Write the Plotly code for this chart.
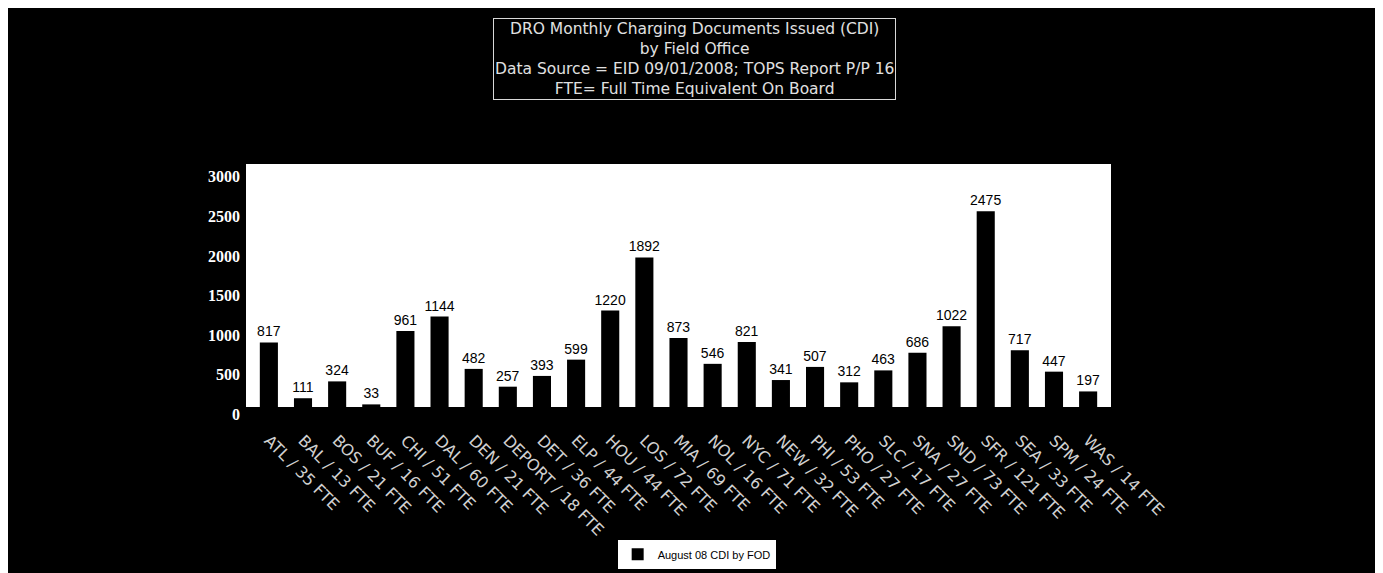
import plotly.graph_objects as go

offices = ["ATL / 35 FTE", "BAL / 13 FTE", "BOS / 21 FTE", "BUF / 16 FTE", "CHI / 51 FTE",
           "DAL / 60 FTE", "DEN / 21 FTE", "DEPORT / 18 FTE", "DET / 36 FTE", "ELP / 44 FTE",
           "HOU / 44 FTE", "LOS / 72 FTE", "MIA / 69 FTE", "NOL / 16 FTE", "NYC / 71 FTE",
           "NEW / 32 FTE", "PHI / 53 FTE", "PHO / 27 FTE", "SLC / 17 FTE", "SNA / 27 FTE",
           "SND / 73 FTE", "SFR / 121 FTE", "SEA / 33 FTE", "SPM / 24 FTE", "WAS / 14 FTE"]
cdi_values = [817, 111, 324, 33, 961, 1144, 482, 257, 393, 599,
              1220, 1892, 873, 546, 821, 341, 507, 312, 463, 686,
              1022, 2475, 717, 447, 197]
y_ticks = [0, 500, 1000, 1500, 2000, 2500, 3000]
series_name = "August 08 CDI by FOD"
title_lines = ["DRO Monthly Charging Documents Issued (CDI)",
               "by Field Office",
               "Data Source = EID 09/01/2008; TOPS Report P/P 16",
               "FTE= Full Time Equivalent On Board"]

fig = go.Figure()
fig.add_trace(go.Bar(
    x=offices, y=cdi_values, name=series_name,
    marker=dict(color="#000000", line=dict(width=0)),
    text=[str(v) for v in cdi_values], textposition="outside",
    constraintext="none", textangle=0,
    textfont=dict(family="Liberation Sans, Arial", size=14, color="#000000"),
    cliponaxis=False, showlegend=True,
))

fig.update_layout(
    width=1383, height=573, autosize=False,
    paper_bgcolor="#000000", plot_bgcolor="#ffffff",
    margin=dict(l=238, r=280, t=156, b=168),
    bargap=0.47,
    showlegend=True,
    legend=dict(orientation="h", x=0.521, y=-0.606, xanchor="center", yanchor="middle",
                bgcolor="#ffffff", font=dict(family="Liberation Sans Narrow, Liberation Sans, Arial", size=11, color="#000000"),
                itemwidth=30, tracegroupgap=0),
    xaxis=dict(range=[-0.67, 24.67], tickangle=45, showgrid=False, showline=False,
               zeroline=False, ticks="", ticklabelstandoff=20,
               tickfont=dict(family="DejaVu Sans", size=16, color="#d0d0d0")),
    yaxis=dict(range=[0, 3074], tickvals=y_ticks, showgrid=False, showline=False,
               zeroline=False, ticks="", ticklabelstandoff=5, ticklabelshift=7,
               tickfont=dict(family="Liberation Serif, Times New Roman", size=16, color="#ffffff",
                             weight="bold"),
               tickformat="d"),
    annotations=[dict(
        text="<br>".join(title_lines), xref="paper", yref="paper",
        x=0.518, y=1.432, xanchor="center", yanchor="middle", showarrow=False,
        align="center", font=dict(family="DejaVu Sans", size=15.5, color="#e0e0e0"),
        bordercolor="#d8d8d8", borderwidth=1, borderpad=1, bgcolor="#000000",
    )],
)

fig.write_html("out.html")
